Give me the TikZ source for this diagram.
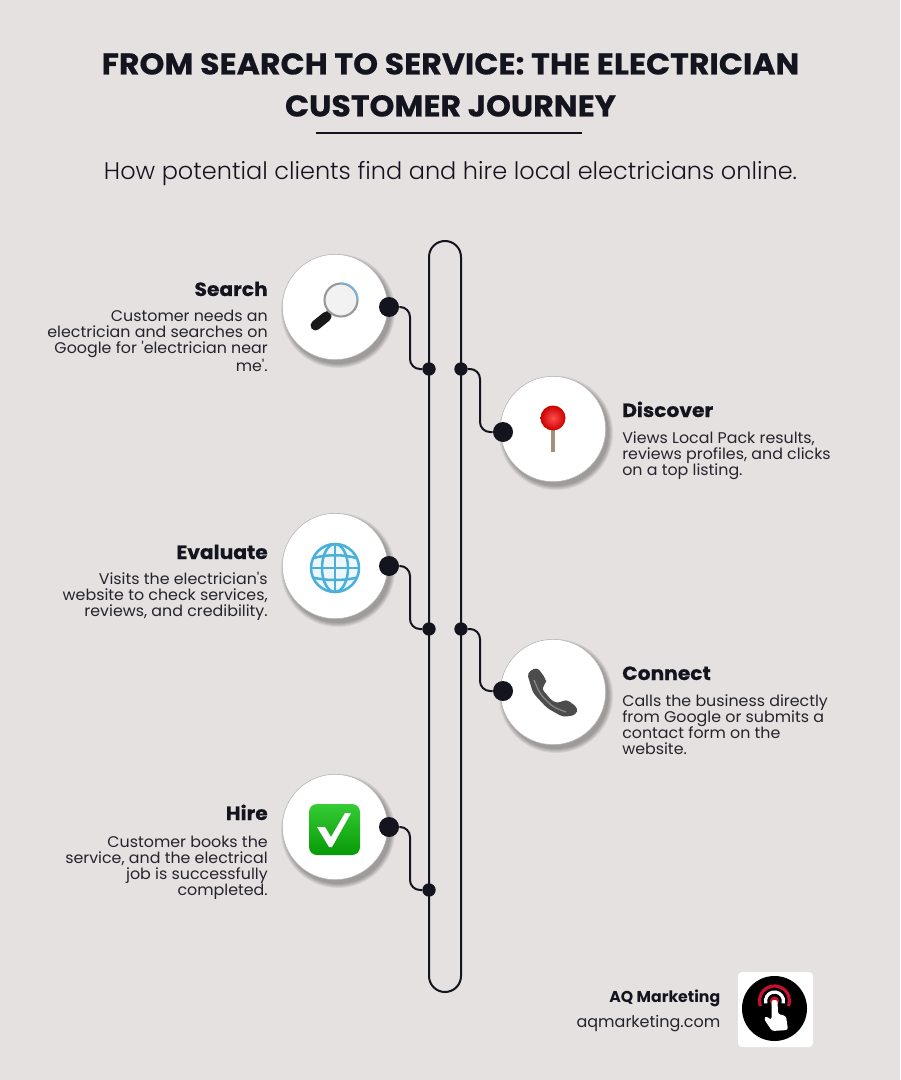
\documentclass[tikz,border=0pt]{standalone}
\usepackage{fontspec}
\setmainfont{Poppins}
\newfontfamily\titlefont[FakeStretch=1.054,FakeBold=0.5]{Poppins}
\newfontfamily\blurbfont[FakeStretch=1.025]{Poppins}
\newfontfamily\lightfont{Poppins Light}
\usepackage{tikz}
\usetikzlibrary{%
  calc,%
  positioning}
\definecolor{paper}{HTML}{E5E1E0}
\definecolor{ink}{HTML}{14141F}
\definecolor{bodyink}{HTML}{24242C}
\definecolor{globeblue}{HTML}{4AB0DA}
\definecolor{boxtop}{HTML}{35CC35}
\definecolor{boxmid}{HTML}{0CB00C}
\definecolor{boxlow}{HTML}{069A06}
\definecolor{logored}{HTML}{C8102E}
\tikzset{
  track/.style={draw=ink, line width=1.5pt},
  link/.style={draw=ink, line width=1.5pt, rounded corners=7.5pt},
  disc/.style={circle, fill=white, draw=black!30, line width=.4pt, minimum size=79pt, inner sep=0pt},
  pin/.style={circle, fill=ink, minimum size=15pt, inner sep=0pt},
  dot/.style={circle, fill=ink, minimum size=10pt, inner sep=0pt},
  headline/.style={anchor=base, inner sep=0pt, text=ink, font=\fontsize{22.5}{27}\titlefont\bfseries},
  heading/.style={anchor=base, inner sep=0pt, text=ink, font=\fontsize{14.4}{18}\titlefont\bfseries},
  blurbleft/.style={anchor=north east, inner sep=0pt, align=right, text=bodyink, font=\fontsize{11.6}{12}\blurbfont},
  blurbright/.style={anchor=north west, inner sep=0pt, align=left, text=bodyink, font=\fontsize{11.6}{12}\blurbfont},
  globeline/.style={draw=globeblue, line width=1.9pt}
}
\begin{document}
\begin{tikzpicture}[x=0.75pt,y=-0.75pt]
\useasboundingbox[fill=paper] (0,0) rectangle (900,1080);
% title and subtitle
\node (T1) at (450.5,74.5) [headline] {FROM SEARCH TO SERVICE: THE ELECTRICIAN};
\node (T2) at (450.5,116.5) [headline] {CUSTOMER JOURNEY};
\coordinate (R1) at (316,133);
\coordinate (R2) at (582,133);
\draw[track] (R1) -- (R2);
\node (S) at (450.5,180) [anchor=base, inner sep=0pt, text=ink, font=\fontsize{18}{22}\lightfont] {How potential clients find and hire local electricians online.};
% the long loop
\draw[track, rounded corners=12pt] (429,241) rectangle (461,992);
% soft shadows under the discs
\foreach \x/\y in {335/307,553/429,335/566,553/692,335/827}
  \foreach \r in {57,56,55,54,53}
    \fill[black, opacity=.07] (\x+3,\y+4) circle (\r);
% discs, pins and dots
\node (D1) at (335,307) [disc] {};
\node (D2) at (553,429) [disc] {};
\node (D3) at (335,566) [disc] {};
\node (D4) at (553,692) [disc] {};
\node (D5) at (335,827) [disc] {};
\node (P1) at (389,307) [pin] {};
\node (P2) at (503,432) [pin] {};
\node (P3) at (389,566) [pin] {};
\node (P4) at (503,691) [pin] {};
\node (P5) at (389,827) [pin] {};
\node (L1) at (429,369) [dot] {};
\node (L2) at (461,369) [dot] {};
\node (L3) at (429,629) [dot] {};
\node (L4) at (461,629) [dot] {};
\node (L5) at (429,890) [dot] {};
\coordinate (B1) at (410,369);
\coordinate (B2) at (480,432);
\coordinate (B3) at (410,629);
\coordinate (B4) at (480,691);
\coordinate (B5) at (410,890);
\draw[link] (P1) -| (B1) -- (L1);
\draw[link] (L2) -| (B2) -- (P2);
\draw[link] (P3) -| (B3) -- (L3);
\draw[link] (L4) -| (B4) -- (P4);
\draw[link] (P5) -| (B5) -- (L5);
% texts
\node (H1) at (268,296) [heading, anchor=base east] {Search};
\node (H2) at (622,417) [heading, anchor=base west] {Discover};
\node (H3) at (268,559) [heading, anchor=base east] {Evaluate};
\node (H4) at (622,680) [heading, anchor=base west] {Connect};
\node (H5) at (268,820) [heading, anchor=base east] {Hire};
\node (E1) at (268,310) [blurbleft] {Customer needs an\\electrician and searches on\\Google for \textquotesingle electrician near\\me\textquotesingle .};
\node (E2) at (622,431) [blurbright] {Views Local Pack results,\\reviews profiles, and clicks\\on a top listing.};
\node (E3) at (268,572) [blurbleft] {Visits the electrician\textquotesingle s\\website to check services,\\reviews, and credibility.};
\node (E4) at (622,694) [blurbright] {Calls the business directly\\from Google or submits a\\contact form on the\\website.};
\node (E5) at (268,836) [blurbleft] {Customer books the\\service, and the electrical\\job is successfully\\completed.};
% magnifier
\draw[line width=5pt, black!55] (331,311) -- (327,315);
\draw[line width=7.5pt, line cap=round, black!90] (326.5,316.5) -- (315.5,325.5);
\fill[black!5] (341,300) circle (16.5);
\draw[line width=1.6pt, black!40] (341,300) circle (16.5);
\draw[line width=.8pt, blue!40!cyan!60] (341,283) arc[start angle=-90,end angle=0,radius=17];
% map pin
\draw[line width=3.2pt, black!45!brown!60] (553,428) -- (553,452);
\shade[inner color=red!70!white, outer color=red!80!black] (553,418) circle (12.5);
% globe
\fill[globeblue!10] (335,568) circle (24);
\begin{scope}
\clip (335,568) circle (24);
\draw[globeline] (311,559) .. controls (325,554) and (345,554) .. (359,559);
\draw[globeline] (311,568) -- (359,568);
\draw[globeline] (311,577) .. controls (325,581) and (345,581) .. (359,577);
\draw[globeline] (335,544) -- (335,592);
\draw[globeline] (335,568) ellipse (13 and 24);
\end{scope}
\draw[globeline] (335,568) circle (24);
% phone
\fill[black!70, rounded corners=3pt] (527,673) -- (537,667) -- (546,679) -- (546,684) -- (541,688) -- (553,702) -- (560,703) -- (566,699) -- (578,708) -- (576,715) -- (563,717) -- (547,708) -- (533,693) -- cycle;
\draw[black!48, line width=1pt, rounded corners=4pt] (534,680) -- (540,694) -- (553,707) -- (566,712);
% check box
\shade[top color=boxtop, middle color=boxmid, bottom color=boxlow, rounded corners=6pt] (309,804) rectangle (360,855);
\fill[white] (317,827) -- (325,827) -- (331,837) -- (345,813) -- (351,813) -- (332,847) -- (329,847) -- cycle;
% footer
\node (F1) at (720.5,1002) [anchor=base east, inner sep=0pt, text=ink, font=\fontsize{11.8}{15}\selectfont\bfseries] {AQ Marketing};
\node (F2) at (720.5,1027) [anchor=base east, inner sep=0pt, text=bodyink, font=\fontsize{12}{15}\selectfont] {aqmarketing.com};
\fill[white, rounded corners=3pt] (738,972) rectangle (813,1047);
\fill[black] (774.5,1008.5) circle (32.5);
\draw[line width=2.4pt, logored] (774.5,1001) ++(160:15) arc[start angle=160,end angle=380,radius=15];
\draw[line width=2.4pt, white] (774.5,1001) ++(165:9) arc[start angle=165,end angle=375,radius=9];
\fill[logored] (774.5,1001) circle (4.5);
\fill[white, rounded corners=1.8pt] (771.5,1000) -- (777.5,1000) -- (778,1014) -- (786,1016) -- (788,1030) -- (772,1031) -- (764,1019) -- (766,1016) -- (771.5,1020) -- cycle;
\end{tikzpicture}
\end{document}
